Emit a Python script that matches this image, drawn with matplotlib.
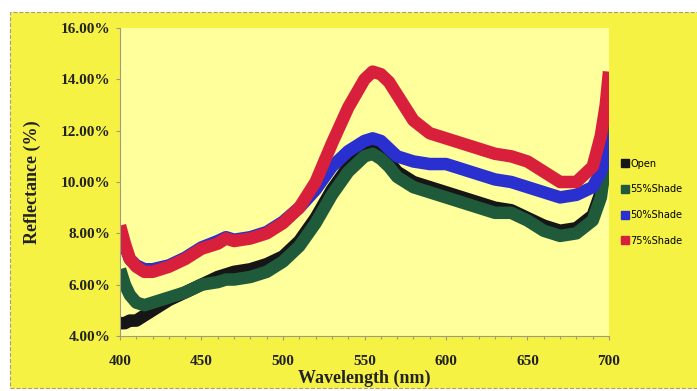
import matplotlib
matplotlib.use("Agg")
import matplotlib.pyplot as plt
from matplotlib.patches import Rectangle
from matplotlib.lines import Line2D
from matplotlib.ticker import FuncFormatter, MultipleLocator

wavelength = [400, 403, 406, 410, 415, 420, 430, 440, 450, 460, 465, 470, 480, 490, 500,
              510, 520, 530, 540, 550, 555, 560, 565, 570, 580, 590, 600, 610, 620, 630,
              640, 650, 660, 670, 680, 690, 695, 698, 700]

open_ = [4.5, 4.5, 4.6, 4.6, 4.8, 5.0, 5.4, 5.7, 6.0, 6.3, 6.4, 6.5, 6.6, 6.8, 7.1,
         7.7, 8.6, 9.7, 10.6, 11.2, 11.3, 11.1, 10.8, 10.4, 10.0, 9.8, 9.6, 9.4, 9.2, 9.0,
         8.9, 8.6, 8.3, 8.1, 8.2, 8.7, 9.6, 10.8, 12.0]
shade55 = [6.6, 6.0, 5.6, 5.3, 5.2, 5.3, 5.5, 5.7, 6.0, 6.1, 6.2, 6.2, 6.3, 6.5, 6.9,
           7.5, 8.4, 9.5, 10.4, 11.0, 11.1, 10.9, 10.6, 10.2, 9.8, 9.6, 9.4, 9.2, 9.0, 8.8,
           8.8, 8.5, 8.1, 7.9, 8.0, 8.5, 9.4, 10.8, 12.5]
shade50 = [8.1, 7.5, 7.0, 6.75, 6.6, 6.6, 6.75, 7.05, 7.45, 7.7, 7.85, 7.75, 7.85, 8.05, 8.45,
           9.0, 9.7, 10.6, 11.2, 11.6, 11.7, 11.6, 11.3, 11.0, 10.8, 10.7, 10.7, 10.5, 10.3, 10.1,
           10.0, 9.8, 9.6, 9.4, 9.5, 9.8, 10.4, 11.0, 11.9]
shade75 = [8.3, 7.6, 7.0, 6.7, 6.5, 6.5, 6.7, 7.0, 7.4, 7.6, 7.8, 7.7, 7.8, 8.0, 8.4,
           9.0, 10.0, 11.5, 12.9, 14.0, 14.3, 14.2, 13.9, 13.4, 12.4, 11.9, 11.7, 11.5, 11.3, 11.1,
           11.0, 10.8, 10.4, 10.0, 10.0, 10.6, 11.8, 13.0, 14.3]

labels = ["Open", "55%Shade", "50%Shade", "75%Shade"]
colors = ["#161616", "#1f5a3a", "#2a2fd0", "#d8203c"]

fig = plt.figure(figsize=(6.97, 3.91), dpi=100, facecolor="white")
# yellow card with dashed border, kept behind the axes
card = Rectangle((10 / 697, 3 / 391), 690 / 697, 376 / 391,
                 transform=fig.transFigure, facecolor="#f6f244",
                 edgecolor="#b09a70", linestyle="--", linewidth=0.8, zorder=-5)
fig.patches.append(card)

ax = fig.add_axes([120 / 697, 55 / 391, 489 / 697, 308 / 391])
ax.set_zorder(1)
ax.set_facecolor("#ffff9c")

for y, c, lab in zip([open_, shade55, shade50, shade75], colors, labels):
    ax.plot(wavelength, y, color=c, lw=9, solid_capstyle="butt", solid_joinstyle="round", label=lab)

ax.set_xlim(400, 700)
ax.set_ylim(4, 16)
ax.xaxis.set_major_locator(MultipleLocator(50))
ax.xaxis.set_minor_locator(MultipleLocator(10))
ax.yaxis.set_major_locator(MultipleLocator(2))
ax.yaxis.set_major_formatter(FuncFormatter(lambda v, p: f"{v:.2f}%"))

for s in ["top", "right"]:
    ax.spines[s].set_visible(False)
for s in ["left", "bottom"]:
    ax.spines[s].set_color("#a09a80")
    ax.spines[s].set_linewidth(0.8)
ax.tick_params(which="both", colors="#a09a80", length=3, width=0.8)
ax.tick_params(which="minor", length=2)

for t in ax.get_xticklabels() + ax.get_yticklabels():
    t.set_fontfamily("Liberation Serif")
    t.set_fontweight("bold")
    t.set_fontsize(11)
    t.set_color("#222222")
ax.tick_params(axis="x", pad=11)
ax.tick_params(axis="y", pad=4)

ax.set_xlabel("Wavelength (nm)", fontdict=dict(family="Liberation Serif", weight="bold", size=13),
              color="#222222", labelpad=1)
ax.set_ylabel("Reflectance (%)", fontdict=dict(family="Liberation Serif", weight="bold", size=13),
              color="#222222", labelpad=14)

handles = [Line2D([], [], color=c, marker="s", linestyle="none", markersize=6) for c in colors]
fig.legend(handles, labels, loc="upper left", bbox_to_anchor=(616 / 697, 1 - 155 / 391),
           frameon=False, prop=dict(family="DejaVu Sans", size=7), handletextpad=0.1,
           labelspacing=1.6, borderaxespad=0, handlelength=1.0)

fig.savefig("out.png", dpi=100, facecolor=fig.get_facecolor())
